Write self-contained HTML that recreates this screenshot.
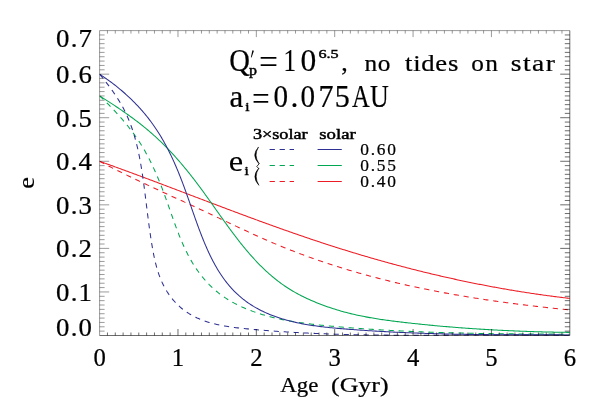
<!DOCTYPE html>
<html><head><meta charset="utf-8"><title>e vs Age</title>
<style>html,body{margin:0;padding:0;background:#fff;}svg{display:block;}text{font-family:"Liberation Serif",serif;fill:#000;}.r text{stroke:#000;stroke-width:0.22px;}</style></head><body>
<svg width="599" height="399" viewBox="0 0 599 399" style="will-change:transform">
<rect x="0" y="0" width="599" height="399" fill="#fff"/>
<defs><clipPath id="c"><rect x="99.6" y="30.6" width="470.20" height="305.80"/></clipPath></defs>
<g clip-path="url(#c)" fill="none" stroke-width="1.05" stroke-linejoin="round">
<path d="M99.60,161.30 L100.76,161.71 L101.92,162.13 L103.08,162.54 L104.24,162.95 L105.39,163.37 L106.55,163.78 L107.71,164.20 L108.87,164.61 L110.03,165.03 L111.18,165.45 L112.34,165.86 L113.50,166.28 L114.65,166.70 L115.81,167.12 L116.97,167.54 L118.12,167.96 L119.28,168.38 L120.44,168.80 L121.59,169.23 L122.75,169.65 L123.90,170.07 L125.06,170.50 L126.22,170.92 L127.37,171.35 L128.53,171.77 L129.68,172.20 L130.84,172.62 L131.99,173.05 L133.14,173.48 L134.30,173.90 L135.45,174.33 L136.61,174.76 L137.76,175.19 L138.92,175.62 L140.07,176.05 L141.22,176.48 L142.38,176.91 L143.53,177.34 L144.68,177.77 L145.84,178.20 L146.99,178.63 L148.14,179.06 L149.30,179.49 L150.45,179.92 L151.60,180.36 L152.75,180.79 L153.91,181.22 L155.06,181.66 L156.21,182.09 L157.36,182.52 L158.52,182.96 L159.67,183.39 L160.82,183.83 L161.97,184.26 L163.12,184.70 L164.28,185.13 L165.43,185.57 L166.58,186.00 L167.73,186.44 L168.88,186.88 L170.04,187.31 L171.19,187.75 L172.34,188.19 L173.49,188.62 L174.64,189.06 L175.79,189.50 L176.95,189.93 L178.10,190.37 L179.25,190.81 L180.40,191.24 L181.55,191.68 L182.70,192.12 L183.85,192.56 L185.01,192.99 L186.16,193.43 L187.31,193.87 L188.46,194.31 L189.61,194.74 L190.76,195.18 L191.91,195.62 L193.06,196.06 L194.22,196.50 L195.37,196.93 L196.52,197.37 L197.67,197.81 L198.82,198.25 L199.97,198.68 L201.13,199.12 L202.28,199.56 L203.43,200.00 L204.58,200.43 L205.73,200.87 L206.88,201.31 L208.04,201.74 L209.19,202.18 L210.34,202.62 L211.49,203.05 L212.64,203.49 L213.79,203.93 L214.95,204.36 L216.10,204.80 L217.25,205.23 L218.40,205.67 L219.56,206.10 L220.71,206.54 L221.86,206.97 L223.01,207.41 L224.17,207.84 L225.32,208.28 L226.47,208.71 L227.62,209.14 L228.78,209.58 L229.93,210.01 L231.08,210.44 L232.24,210.87 L233.39,211.31 L234.54,211.74 L235.70,212.17 L236.85,212.60 L238.00,213.03 L239.16,213.46 L240.31,213.89 L241.47,214.32 L242.62,214.75 L243.78,215.18 L244.93,215.61 L246.09,216.04 L247.24,216.47 L248.39,216.89 L249.55,217.32 L250.71,217.75 L251.86,218.17 L253.02,218.60 L254.17,219.02 L255.33,219.45 L256.48,219.87 L257.64,220.30 L258.80,220.72 L259.95,221.14 L261.11,221.57 L262.27,221.99 L263.42,222.41 L264.58,222.83 L265.74,223.25 L266.90,223.67 L268.05,224.09 L269.21,224.51 L270.37,224.93 L271.53,225.34 L272.69,225.76 L273.85,226.18 L275.00,226.59 L276.16,227.01 L277.32,227.42 L278.48,227.84 L279.64,228.25 L280.80,228.66 L281.96,229.07 L283.12,229.49 L284.28,229.90 L285.44,230.31 L286.61,230.72 L287.77,231.12 L288.93,231.53 L290.09,231.94 L291.25,232.35 L292.41,232.75 L293.58,233.16 L294.74,233.56 L295.90,233.96 L297.07,234.37 L298.23,234.77 L299.39,235.17 L300.56,235.57 L301.72,235.97 L302.89,236.37 L304.05,236.77 L305.22,237.16 L306.38,237.56 L307.55,237.96 L308.71,238.35 L309.88,238.74 L311.05,239.14 L312.21,239.53 L313.38,239.92 L314.55,240.31 L315.71,240.70 L316.88,241.09 L318.05,241.48 L319.22,241.86 L320.39,242.25 L321.56,242.63 L322.73,243.02 L323.90,243.40 L325.07,243.78 L326.24,244.16 L327.41,244.54 L328.58,244.92 L329.75,245.30 L330.92,245.68 L332.09,246.05 L333.27,246.43 L334.44,246.80 L335.61,247.17 L336.78,247.55 L337.96,247.92 L339.13,248.29 L340.31,248.66 L341.48,249.02 L342.66,249.39 L343.83,249.76 L345.01,250.12 L346.18,250.49 L347.36,250.85 L348.54,251.21 L349.71,251.57 L350.89,251.93 L352.07,252.29 L353.24,252.65 L354.42,253.01 L355.60,253.36 L356.78,253.72 L357.96,254.07 L359.14,254.42 L360.32,254.78 L361.50,255.13 L362.68,255.48 L363.86,255.82 L365.04,256.17 L366.22,256.52 L367.40,256.86 L368.58,257.21 L369.76,257.55 L370.95,257.89 L372.13,258.24 L373.31,258.58 L374.49,258.92 L375.68,259.25 L376.86,259.59 L378.05,259.93 L379.23,260.26 L380.42,260.60 L381.60,260.93 L382.79,261.26 L383.97,261.59 L385.16,261.92 L386.34,262.25 L387.53,262.58 L388.72,262.90 L389.90,263.23 L391.09,263.55 L392.28,263.87 L393.47,264.20 L394.65,264.52 L395.84,264.84 L397.03,265.16 L398.22,265.47 L399.41,265.79 L400.60,266.11 L401.79,266.42 L402.98,266.73 L404.17,267.05 L405.36,267.36 L406.55,267.67 L407.74,267.97 L408.94,268.28 L410.13,268.59 L411.32,268.89 L412.51,269.20 L413.71,269.50 L414.90,269.80 L416.09,270.10 L417.29,270.40 L418.48,270.70 L419.67,271.00 L420.87,271.30 L422.06,271.59 L423.26,271.89 L424.45,272.18 L425.65,272.47 L426.85,272.76 L428.04,273.05 L429.24,273.34 L430.44,273.63 L431.63,273.91 L432.83,274.20 L434.03,274.48 L435.23,274.76 L436.42,275.04 L437.62,275.32 L438.82,275.60 L440.02,275.88 L441.22,276.16 L442.42,276.43 L443.62,276.71 L444.82,276.98 L446.02,277.25 L447.22,277.52 L448.42,277.79 L449.62,278.06 L450.82,278.33 L452.02,278.59 L453.23,278.86 L454.43,279.12 L455.63,279.38 L456.83,279.64 L458.04,279.90 L459.24,280.16 L460.44,280.42 L461.65,280.68 L462.85,280.93 L464.06,281.19 L465.26,281.44 L466.47,281.69 L467.67,281.94 L468.88,282.19 L470.08,282.44 L471.29,282.68 L472.50,282.93 L473.70,283.17 L474.91,283.42 L476.12,283.66 L477.32,283.90 L478.53,284.14 L479.74,284.37 L480.95,284.61 L482.16,284.85 L483.36,285.08 L484.57,285.31 L485.78,285.55 L486.99,285.78 L488.20,286.01 L489.41,286.23 L490.62,286.46 L491.83,286.69 L493.04,286.91 L494.25,287.13 L495.46,287.35 L496.68,287.57 L497.89,287.79 L499.10,288.01 L500.31,288.23 L501.52,288.44 L502.74,288.66 L503.95,288.87 L505.16,289.08 L506.38,289.29 L507.59,289.50 L508.80,289.71 L510.02,289.91 L511.23,290.12 L512.45,290.32 L513.66,290.52 L514.88,290.73 L516.09,290.92 L517.31,291.12 L518.52,291.32 L519.74,291.52 L520.96,291.71 L522.17,291.90 L523.39,292.10 L524.61,292.29 L525.82,292.48 L527.04,292.66 L528.26,292.85 L529.48,293.04 L530.70,293.22 L531.91,293.40 L533.13,293.58 L534.35,293.76 L535.57,293.94 L536.79,294.12 L538.01,294.29 L539.23,294.47 L540.45,294.64 L541.67,294.81 L542.89,294.99 L544.11,295.15 L545.33,295.32 L546.56,295.49 L547.78,295.65 L549.00,295.82 L550.22,295.98 L551.44,296.14 L552.67,296.30 L553.89,296.46 L555.11,296.62 L556.34,296.77 L557.56,296.93 L558.78,297.08 L560.01,297.23 L561.23,297.38 L562.46,297.53 L563.68,297.68 L564.90,297.82 L566.13,297.97 L567.35,298.11 L568.58,298.25 L569.81,298.39" stroke="#ed1c24"/>
<path d="M99.60,161.30 L100.70,161.88 L101.79,162.46 L102.89,163.04 L103.99,163.62 L105.10,164.19 L106.20,164.77 L107.30,165.34 L108.41,165.91 L109.51,166.48 L110.62,167.05 L111.73,167.61 L112.84,168.18 L113.95,168.74 L115.06,169.30 L116.18,169.86 L117.29,170.42 L118.40,170.98 L119.52,171.54 L120.64,172.09 L121.75,172.64 L122.87,173.20 L123.99,173.75 L125.11,174.30 L126.23,174.85 L127.36,175.40 L128.48,175.94 L129.60,176.49 L130.73,177.03 L131.85,177.58 L132.98,178.12 L134.10,178.66 L135.23,179.20 L136.36,179.74 L137.49,180.28 L138.62,180.82 L139.75,181.36 L140.88,181.89 L142.01,182.43 L143.14,182.97 L144.27,183.50 L145.40,184.03 L146.53,184.56 L147.67,185.10 L148.80,185.63 L149.94,186.16 L151.07,186.69 L152.21,187.22 L153.34,187.75 L154.48,188.27 L155.61,188.80 L156.75,189.33 L157.88,189.85 L159.02,190.38 L160.16,190.91 L161.29,191.43 L162.43,191.95 L163.57,192.48 L164.71,193.00 L165.84,193.53 L166.98,194.05 L168.12,194.57 L169.26,195.09 L170.40,195.62 L171.53,196.14 L172.67,196.66 L173.81,197.18 L174.95,197.70 L176.09,198.23 L177.22,198.75 L178.36,199.27 L179.50,199.79 L180.64,200.31 L181.77,200.83 L182.91,201.35 L184.05,201.87 L185.18,202.39 L186.32,202.91 L187.46,203.44 L188.59,203.96 L189.73,204.48 L190.86,205.00 L192.00,205.52 L193.13,206.04 L194.27,206.57 L195.40,207.09 L196.53,207.61 L197.67,208.13 L198.80,208.66 L199.93,209.18 L201.06,209.71 L202.19,210.23 L203.32,210.75 L204.45,211.28 L205.58,211.81 L206.71,212.33 L207.84,212.86 L208.97,213.39 L210.09,213.91 L211.22,214.44 L212.34,214.97 L213.47,215.50 L214.59,216.03 L215.71,216.56 L216.84,217.09 L217.96,217.62 L219.08,218.15 L220.20,218.68 L221.32,219.22 L222.45,219.75 L223.57,220.28 L224.69,220.81 L225.81,221.34 L226.92,221.87 L228.04,222.40 L229.16,222.93 L230.28,223.46 L231.40,223.99 L232.52,224.52 L233.64,225.05 L234.76,225.58 L235.88,226.11 L237.00,226.64 L238.11,227.17 L239.23,227.69 L240.35,228.22 L241.47,228.74 L242.59,229.27 L243.71,229.79 L244.83,230.31 L245.95,230.83 L247.07,231.35 L248.20,231.87 L249.32,232.39 L250.44,232.91 L251.56,233.42 L252.69,233.94 L253.81,234.45 L254.93,234.96 L256.06,235.47 L257.18,235.98 L258.31,236.48 L259.44,236.99 L260.57,237.49 L261.70,237.99 L262.82,238.49 L263.96,238.99 L265.09,239.49 L266.22,239.98 L267.35,240.48 L268.49,240.97 L269.62,241.46 L270.76,241.94 L271.89,242.43 L273.03,242.91 L274.17,243.39 L275.31,243.87 L276.45,244.35 L277.59,244.82 L278.74,245.30 L279.88,245.77 L281.03,246.24 L282.17,246.71 L283.32,247.18 L284.47,247.64 L285.62,248.10 L286.77,248.57 L287.92,249.02 L289.08,249.48 L290.23,249.94 L291.39,250.39 L292.54,250.84 L293.70,251.29 L294.86,251.74 L296.02,252.19 L297.18,252.63 L298.34,253.07 L299.50,253.51 L300.66,253.95 L301.82,254.38 L302.99,254.82 L304.15,255.25 L305.32,255.68 L306.49,256.10 L307.65,256.53 L308.82,256.95 L309.99,257.37 L311.16,257.79 L312.33,258.21 L313.50,258.62 L314.67,259.03 L315.85,259.44 L317.02,259.85 L318.19,260.26 L319.37,260.66 L320.55,261.07 L321.72,261.47 L322.90,261.86 L324.08,262.26 L325.26,262.66 L326.44,263.05 L327.62,263.44 L328.80,263.83 L329.98,264.21 L331.16,264.60 L332.34,264.98 L333.53,265.36 L334.71,265.74 L335.90,266.12 L337.08,266.49 L338.27,266.86 L339.46,267.23 L340.64,267.60 L341.83,267.97 L343.02,268.34 L344.21,268.70 L345.40,269.06 L346.59,269.42 L347.79,269.78 L348.98,270.13 L350.17,270.49 L351.36,270.84 L352.56,271.19 L353.75,271.54 L354.95,271.89 L356.15,272.23 L357.34,272.57 L358.54,272.92 L359.74,273.25 L360.94,273.59 L362.14,273.93 L363.34,274.26 L364.54,274.59 L365.74,274.92 L366.94,275.25 L368.14,275.58 L369.34,275.91 L370.55,276.23 L371.75,276.55 L372.95,276.87 L374.16,277.19 L375.37,277.50 L376.57,277.82 L377.78,278.13 L378.98,278.44 L380.19,278.75 L381.40,279.06 L382.61,279.37 L383.82,279.67 L385.03,279.97 L386.24,280.28 L387.45,280.58 L388.66,280.87 L389.87,281.17 L391.08,281.46 L392.30,281.76 L393.51,282.05 L394.72,282.34 L395.94,282.63 L397.15,282.91 L398.37,283.20 L399.58,283.48 L400.80,283.76 L402.02,284.04 L403.23,284.32 L404.45,284.60 L405.67,284.87 L406.89,285.14 L408.10,285.42 L409.32,285.69 L410.54,285.96 L411.76,286.22 L412.98,286.49 L414.20,286.75 L415.42,287.02 L416.65,287.28 L417.87,287.54 L419.09,287.80 L420.31,288.05 L421.54,288.31 L422.76,288.56 L423.98,288.81 L425.21,289.06 L426.43,289.31 L427.66,289.56 L428.88,289.81 L430.11,290.05 L431.33,290.30 L432.56,290.54 L433.79,290.78 L435.01,291.02 L436.24,291.26 L437.47,291.49 L438.70,291.73 L439.92,291.96 L441.15,292.19 L442.38,292.42 L443.61,292.65 L444.84,292.88 L446.07,293.11 L447.30,293.33 L448.53,293.56 L449.76,293.78 L450.99,294.00 L452.22,294.22 L453.46,294.44 L454.69,294.66 L455.92,294.87 L457.15,295.09 L458.38,295.30 L459.62,295.51 L460.85,295.72 L462.08,295.93 L463.32,296.14 L464.55,296.35 L465.78,296.55 L467.02,296.76 L468.25,296.96 L469.49,297.16 L470.72,297.36 L471.96,297.56 L473.19,297.76 L474.43,297.96 L475.66,298.15 L476.90,298.35 L478.13,298.54 L479.37,298.73 L480.61,298.92 L481.84,299.11 L483.08,299.30 L484.32,299.49 L485.55,299.67 L486.79,299.86 L488.03,300.04 L489.27,300.22 L490.50,300.40 L491.74,300.59 L492.98,300.76 L494.22,300.94 L495.45,301.12 L496.69,301.29 L497.93,301.47 L499.17,301.64 L500.41,301.81 L501.65,301.99 L502.88,302.16 L504.12,302.33 L505.36,302.49 L506.60,302.66 L507.84,302.83 L509.08,302.99 L510.32,303.15 L511.56,303.32 L512.80,303.48 L514.04,303.64 L515.28,303.80 L516.52,303.96 L517.75,304.12 L518.99,304.27 L520.23,304.43 L521.47,304.58 L522.71,304.74 L523.95,304.89 L525.19,305.04 L526.43,305.19 L527.67,305.34 L528.91,305.49 L530.15,305.64 L531.39,305.78 L532.63,305.93 L533.87,306.07 L535.11,306.22 L536.35,306.36 L537.59,306.50 L538.83,306.64 L540.07,306.79 L541.31,306.92 L542.55,307.06 L543.79,307.20 L545.03,307.34 L546.27,307.47 L547.50,307.61 L548.74,307.74 L549.98,307.88 L551.22,308.01 L552.46,308.14 L553.70,308.27 L554.94,308.40 L556.18,308.53 L557.42,308.66 L558.65,308.79 L559.89,308.91 L561.13,309.04 L562.37,309.16 L563.61,309.29 L564.85,309.41 L566.08,309.53 L567.32,309.66 L568.56,309.78 L569.80,309.90" stroke="#ed1c24" stroke-dasharray="5.2 4.8"/>
<path d="M99.60,95.90 L100.76,96.63 L101.93,97.36 L103.09,98.10 L104.26,98.84 L105.43,99.59 L106.60,100.34 L107.77,101.09 L108.94,101.84 L110.11,102.60 L111.28,103.37 L112.45,104.13 L113.62,104.91 L114.79,105.68 L115.96,106.46 L117.13,107.24 L118.30,108.03 L119.47,108.82 L120.63,109.61 L121.80,110.41 L122.96,111.21 L124.12,112.02 L125.28,112.83 L126.44,113.65 L127.59,114.47 L128.74,115.29 L129.89,116.12 L131.04,116.95 L132.18,117.79 L133.32,118.63 L134.46,119.48 L135.59,120.33 L136.72,121.19 L137.85,122.04 L138.97,122.91 L140.08,123.78 L141.20,124.65 L142.30,125.53 L143.41,126.42 L144.50,127.30 L145.60,128.20 L146.68,129.10 L147.77,130.00 L148.84,130.91 L149.91,131.82 L150.98,132.74 L152.03,133.66 L153.08,134.59 L154.13,135.52 L155.17,136.46 L156.20,137.41 L157.23,138.36 L158.25,139.31 L159.26,140.27 L160.27,141.23 L161.27,142.20 L162.27,143.17 L163.26,144.15 L164.25,145.13 L165.23,146.11 L166.21,147.11 L167.18,148.10 L168.15,149.10 L169.11,150.10 L170.06,151.11 L171.01,152.12 L171.96,153.14 L172.90,154.16 L173.84,155.19 L174.77,156.22 L175.70,157.25 L176.62,158.29 L177.54,159.33 L178.46,160.37 L179.37,161.42 L180.28,162.47 L181.18,163.53 L182.08,164.59 L182.98,165.65 L183.87,166.72 L184.76,167.79 L185.64,168.87 L186.52,169.95 L187.40,171.03 L188.27,172.11 L189.15,173.20 L190.01,174.29 L190.88,175.39 L191.74,176.48 L192.60,177.59 L193.46,178.69 L194.31,179.80 L195.16,180.91 L196.01,182.02 L196.86,183.14 L197.70,184.26 L198.54,185.38 L199.38,186.50 L200.22,187.63 L201.05,188.76 L201.89,189.90 L202.72,191.03 L203.55,192.17 L204.37,193.31 L205.20,194.45 L206.03,195.60 L206.85,196.74 L207.67,197.89 L208.49,199.04 L209.31,200.19 L210.13,201.34 L210.95,202.49 L211.77,203.65 L212.59,204.80 L213.41,205.96 L214.23,207.11 L215.04,208.27 L215.86,209.43 L216.68,210.58 L217.50,211.74 L218.31,212.90 L219.13,214.05 L219.95,215.21 L220.77,216.36 L221.59,217.52 L222.42,218.67 L223.24,219.83 L224.06,220.98 L224.89,222.13 L225.72,223.28 L226.54,224.42 L227.38,225.57 L228.21,226.71 L229.04,227.86 L229.88,229.00 L230.72,230.13 L231.56,231.27 L232.40,232.40 L233.24,233.53 L234.09,234.66 L234.94,235.78 L235.80,236.90 L236.65,238.02 L237.51,239.14 L238.38,240.25 L239.24,241.36 L240.11,242.46 L240.99,243.56 L241.86,244.66 L242.74,245.75 L243.63,246.84 L244.52,247.92 L245.41,249.00 L246.31,250.07 L247.21,251.14 L248.11,252.20 L249.02,253.26 L249.94,254.31 L250.86,255.36 L251.79,256.40 L252.72,257.44 L253.65,258.47 L254.59,259.49 L255.54,260.51 L256.49,261.53 L257.45,262.53 L258.41,263.53 L259.38,264.52 L260.36,265.51 L261.34,266.49 L262.33,267.46 L263.32,268.42 L264.32,269.38 L265.33,270.33 L266.34,271.27 L267.36,272.20 L268.39,273.13 L269.43,274.05 L270.47,274.96 L271.52,275.86 L272.58,276.75 L273.64,277.63 L274.71,278.51 L275.79,279.37 L276.88,280.23 L277.98,281.08 L279.08,281.92 L280.19,282.75 L281.31,283.57 L282.44,284.38 L283.58,285.18 L284.73,285.97 L285.88,286.75 L287.05,287.51 L288.22,288.27 L289.41,289.02 L290.60,289.76 L291.80,290.48 L293.01,291.20 L294.23,291.91 L295.45,292.60 L296.69,293.29 L297.93,293.96 L299.18,294.63 L300.44,295.28 L301.70,295.92 L302.97,296.56 L304.25,297.18 L305.53,297.80 L306.81,298.41 L308.11,299.00 L309.40,299.59 L310.70,300.17 L312.01,300.74 L313.31,301.30 L314.63,301.85 L315.94,302.39 L317.26,302.93 L318.58,303.45 L319.90,303.97 L321.23,304.48 L322.55,304.98 L323.88,305.47 L325.21,305.96 L326.54,306.43 L327.87,306.90 L329.21,307.36 L330.55,307.81 L331.88,308.26 L333.22,308.69 L334.57,309.12 L335.91,309.54 L337.25,309.95 L338.60,310.35 L339.95,310.75 L341.30,311.14 L342.65,311.51 L344.00,311.89 L345.35,312.25 L346.71,312.61 L348.07,312.96 L349.42,313.30 L350.78,313.63 L352.14,313.96 L353.50,314.28 L354.87,314.59 L356.23,314.89 L357.60,315.19 L358.96,315.49 L360.33,315.77 L361.70,316.05 L363.07,316.33 L364.44,316.59 L365.81,316.86 L367.18,317.11 L368.56,317.36 L369.93,317.61 L371.31,317.85 L372.68,318.09 L374.06,318.32 L375.44,318.54 L376.82,318.76 L378.20,318.98 L379.58,319.19 L380.96,319.40 L382.34,319.61 L383.73,319.81 L385.11,320.01 L386.49,320.20 L387.88,320.39 L389.26,320.58 L390.65,320.76 L392.04,320.94 L393.43,321.12 L394.81,321.30 L396.20,321.47 L397.59,321.64 L398.98,321.81 L400.37,321.97 L401.76,322.14 L403.15,322.30 L404.54,322.46 L405.93,322.62 L407.33,322.78 L408.72,322.94 L410.11,323.09 L411.50,323.25 L412.90,323.40 L414.29,323.55 L415.68,323.70 L417.08,323.85 L418.47,323.99 L419.86,324.14 L421.26,324.28 L422.65,324.42 L424.05,324.57 L425.44,324.71 L426.84,324.84 L428.24,324.98 L429.63,325.12 L431.03,325.25 L432.43,325.38 L433.82,325.52 L435.22,325.65 L436.62,325.78 L438.02,325.90 L439.41,326.03 L440.81,326.15 L442.21,326.28 L443.61,326.40 L445.01,326.52 L446.41,326.64 L447.81,326.76 L449.20,326.87 L450.60,326.99 L452.00,327.10 L453.40,327.22 L454.80,327.33 L456.20,327.44 L457.60,327.55 L459.01,327.66 L460.41,327.76 L461.81,327.87 L463.21,327.97 L464.61,328.08 L466.01,328.18 L467.41,328.28 L468.81,328.38 L470.22,328.47 L471.62,328.57 L473.02,328.66 L474.42,328.76 L475.82,328.85 L477.23,328.94 L478.63,329.03 L480.03,329.12 L481.43,329.21 L482.84,329.29 L484.24,329.38 L485.64,329.46 L487.04,329.55 L488.45,329.63 L489.85,329.71 L491.25,329.79 L492.66,329.87 L494.06,329.94 L495.46,330.02 L496.87,330.09 L498.27,330.16 L499.67,330.24 L501.08,330.31 L502.48,330.38 L503.88,330.45 L505.29,330.51 L506.69,330.58 L508.10,330.64 L509.50,330.71 L510.90,330.77 L512.31,330.83 L513.71,330.89 L515.11,330.95 L516.52,331.01 L517.92,331.07 L519.32,331.12 L520.73,331.18 L522.13,331.23 L523.53,331.28 L524.94,331.33 L526.34,331.38 L527.74,331.43 L529.15,331.48 L530.55,331.53 L531.95,331.57 L533.36,331.62 L534.76,331.66 L536.16,331.70 L537.57,331.74 L538.97,331.78 L540.37,331.82 L541.77,331.86 L543.18,331.90 L544.58,331.93 L545.98,331.97 L547.38,332.00 L548.78,332.03 L550.19,332.07 L551.59,332.10 L552.99,332.13 L554.39,332.15 L555.79,332.18 L557.19,332.21 L558.60,332.23 L560.00,332.26 L561.40,332.28 L562.80,332.30 L564.20,332.32 L565.60,332.34 L567.00,332.36 L568.40,332.38 L569.80,332.40" stroke="#00a651"/>
<path d="M99.60,95.90 L100.68,96.92 L101.76,97.94 L102.83,98.97 L103.91,100.00 L104.97,101.04 L106.04,102.08 L107.09,103.12 L108.15,104.18 L109.20,105.23 L110.24,106.29 L111.28,107.36 L112.32,108.43 L113.35,109.51 L114.37,110.59 L115.39,111.68 L116.40,112.77 L117.41,113.87 L118.41,114.97 L119.40,116.08 L120.39,117.20 L121.37,118.31 L122.34,119.44 L123.31,120.57 L124.27,121.70 L125.22,122.84 L126.16,123.99 L127.10,125.14 L128.02,126.29 L128.94,127.46 L129.86,128.62 L130.76,129.80 L131.65,130.97 L132.54,132.16 L133.41,133.35 L134.28,134.54 L135.14,135.74 L135.99,136.95 L136.83,138.16 L137.65,139.38 L138.47,140.60 L139.28,141.83 L140.08,143.06 L140.87,144.30 L141.64,145.55 L142.41,146.80 L143.16,148.05 L143.91,149.32 L144.64,150.58 L145.37,151.86 L146.08,153.14 L146.79,154.42 L147.48,155.71 L148.17,157.00 L148.85,158.30 L149.52,159.60 L150.18,160.91 L150.83,162.22 L151.47,163.54 L152.11,164.86 L152.74,166.19 L153.36,167.52 L153.97,168.85 L154.58,170.19 L155.18,171.54 L155.78,172.88 L156.36,174.23 L156.94,175.59 L157.52,176.94 L158.09,178.30 L158.65,179.67 L159.21,181.04 L159.76,182.41 L160.31,183.78 L160.85,185.16 L161.39,186.54 L161.93,187.92 L162.46,189.31 L162.98,190.70 L163.51,192.09 L164.03,193.48 L164.54,194.88 L165.06,196.28 L165.57,197.68 L166.07,199.08 L166.58,200.48 L167.08,201.89 L167.58,203.30 L168.08,204.71 L168.58,206.12 L169.08,207.54 L169.57,208.95 L170.07,210.37 L170.56,211.78 L171.06,213.20 L171.56,214.62 L172.05,216.03 L172.55,217.45 L173.05,218.86 L173.56,220.28 L174.06,221.69 L174.57,223.10 L175.08,224.51 L175.60,225.92 L176.12,227.33 L176.64,228.73 L177.17,230.14 L177.71,231.53 L178.25,232.93 L178.79,234.32 L179.34,235.71 L179.90,237.10 L180.47,238.48 L181.04,239.86 L181.62,241.23 L182.20,242.60 L182.80,243.96 L183.41,245.32 L184.02,246.67 L184.64,248.02 L185.28,249.36 L185.92,250.70 L186.57,252.03 L187.24,253.35 L187.91,254.67 L188.60,255.98 L189.30,257.28 L190.01,258.57 L190.74,259.86 L191.48,261.13 L192.23,262.40 L192.99,263.67 L193.77,264.92 L194.57,266.16 L195.37,267.40 L196.20,268.62 L197.03,269.83 L197.88,271.04 L198.75,272.23 L199.62,273.41 L200.52,274.58 L201.42,275.74 L202.34,276.89 L203.28,278.02 L204.23,279.14 L205.19,280.25 L206.17,281.35 L207.16,282.43 L208.16,283.49 L209.18,284.55 L210.22,285.58 L211.27,286.61 L212.33,287.61 L213.40,288.60 L214.50,289.58 L215.60,290.54 L216.72,291.48 L217.85,292.40 L219.00,293.31 L220.16,294.20 L221.34,295.07 L222.53,295.93 L223.73,296.77 L224.94,297.59 L226.17,298.40 L227.41,299.19 L228.66,299.96 L229.92,300.72 L231.19,301.46 L232.47,302.19 L233.77,302.90 L235.07,303.60 L236.38,304.28 L237.70,304.95 L239.03,305.60 L240.37,306.24 L241.72,306.86 L243.07,307.47 L244.43,308.07 L245.80,308.65 L247.18,309.22 L248.56,309.78 L249.95,310.32 L251.34,310.85 L252.74,311.37 L254.14,311.88 L255.55,312.37 L256.96,312.85 L258.38,313.32 L259.80,313.78 L261.22,314.23 L262.65,314.66 L264.08,315.08 L265.51,315.50 L266.95,315.90 L268.38,316.29 L269.82,316.67 L271.26,317.04 L272.70,317.41 L274.14,317.76 L275.59,318.10 L277.04,318.43 L278.49,318.76 L279.94,319.07 L281.39,319.38 L282.84,319.68 L284.30,319.97 L285.75,320.25 L287.21,320.52 L288.67,320.79 L290.13,321.05 L291.60,321.30 L293.06,321.55 L294.53,321.79 L295.99,322.02 L297.46,322.24 L298.93,322.46 L300.40,322.68 L301.87,322.88 L303.34,323.09 L304.81,323.28 L306.28,323.47 L307.75,323.66 L309.23,323.84 L310.70,324.02 L312.18,324.19 L313.66,324.36 L315.13,324.53 L316.61,324.69 L318.09,324.85 L319.56,325.00 L321.04,325.15 L322.52,325.30 L324.00,325.45 L325.48,325.59 L326.96,325.73 L328.44,325.87 L329.91,326.01 L331.39,326.15 L332.87,326.28 L334.35,326.42 L335.83,326.55 L337.31,326.68 L338.79,326.81 L340.27,326.93 L341.75,327.06 L343.23,327.18 L344.70,327.30 L346.18,327.43 L347.66,327.55 L349.14,327.66 L350.62,327.78 L352.10,327.90 L353.58,328.01 L355.06,328.12 L356.53,328.23 L358.01,328.34 L359.49,328.45 L360.97,328.56 L362.45,328.66 L363.93,328.77 L365.41,328.87 L366.89,328.97 L368.36,329.07 L369.84,329.17 L371.32,329.27 L372.80,329.36 L374.28,329.46 L375.76,329.55 L377.24,329.65 L378.72,329.74 L380.19,329.83 L381.67,329.91 L383.15,330.00 L384.63,330.09 L386.11,330.17 L387.59,330.26 L389.07,330.34 L390.55,330.42 L392.02,330.50 L393.50,330.58 L394.98,330.66 L396.46,330.73 L397.94,330.81 L399.42,330.88 L400.90,330.95 L402.38,331.03 L403.85,331.10 L405.33,331.17 L406.81,331.24 L408.29,331.30 L409.77,331.37 L411.25,331.44 L412.73,331.50 L414.21,331.56 L415.69,331.63 L417.17,331.69 L418.64,331.75 L420.12,331.81 L421.60,331.86 L423.08,331.92 L424.56,331.98 L426.04,332.03 L427.52,332.09 L429.00,332.14 L430.48,332.19 L431.96,332.24 L433.44,332.29 L434.92,332.34 L436.40,332.39 L437.88,332.44 L439.36,332.49 L440.84,332.53 L442.31,332.58 L443.79,332.62 L445.27,332.67 L446.75,332.71 L448.23,332.75 L449.71,332.79 L451.19,332.83 L452.67,332.87 L454.15,332.91 L455.63,332.95 L457.11,332.98 L458.59,333.02 L460.07,333.05 L461.55,333.09 L463.03,333.12 L464.51,333.16 L465.99,333.19 L467.48,333.22 L468.96,333.25 L470.44,333.28 L471.92,333.31 L473.40,333.34 L474.88,333.37 L476.36,333.39 L477.84,333.42 L479.32,333.45 L480.80,333.47 L482.28,333.50 L483.76,333.52 L485.24,333.55 L486.73,333.57 L488.21,333.59 L489.69,333.61 L491.17,333.64 L492.65,333.66 L494.13,333.68 L495.61,333.70 L497.10,333.72 L498.58,333.73 L500.06,333.75 L501.54,333.77 L503.02,333.79 L504.51,333.80 L505.99,333.82 L507.47,333.84 L508.95,333.85 L510.43,333.87 L511.92,333.88 L513.40,333.89 L514.88,333.91 L516.36,333.92 L517.85,333.93 L519.33,333.95 L520.81,333.96 L522.30,333.97 L523.78,333.98 L525.26,333.99 L526.75,334.00 L528.23,334.01 L529.71,334.02 L531.20,334.03 L532.68,334.04 L534.16,334.05 L535.65,334.06 L537.13,334.07 L538.62,334.07 L540.10,334.08 L541.58,334.09 L543.07,334.10 L544.55,334.10 L546.04,334.11 L547.52,334.12 L549.01,334.12 L550.49,334.13 L551.98,334.14 L553.46,334.14 L554.95,334.15 L556.43,334.15 L557.92,334.16 L559.40,334.16 L560.89,334.17 L562.37,334.17 L563.86,334.18 L565.34,334.18 L566.83,334.19 L568.32,334.19 L569.80,334.20" stroke="#00a651" stroke-dasharray="5.2 4.8"/>
<path d="M99.60,74.20 L100.87,75.03 L102.13,75.87 L103.39,76.72 L104.65,77.58 L105.90,78.45 L107.14,79.32 L108.37,80.21 L109.60,81.10 L110.83,82.00 L112.04,82.91 L113.26,83.83 L114.46,84.76 L115.66,85.70 L116.85,86.65 L118.03,87.60 L119.21,88.56 L120.38,89.53 L121.54,90.51 L122.69,91.50 L123.84,92.50 L124.98,93.50 L126.11,94.52 L127.24,95.54 L128.35,96.57 L129.46,97.61 L130.56,98.65 L131.65,99.71 L132.73,100.77 L133.81,101.84 L134.87,102.92 L135.93,104.01 L136.98,105.11 L138.02,106.21 L139.05,107.32 L140.07,108.44 L141.08,109.57 L142.08,110.71 L143.07,111.85 L144.05,113.00 L145.02,114.16 L145.99,115.33 L146.94,116.51 L147.88,117.69 L148.81,118.88 L149.73,120.08 L150.64,121.29 L151.54,122.50 L152.43,123.72 L153.31,124.95 L154.18,126.19 L155.04,127.43 L155.88,128.69 L156.72,129.94 L157.54,131.21 L158.36,132.48 L159.16,133.76 L159.96,135.05 L160.74,136.34 L161.52,137.64 L162.28,138.94 L163.04,140.25 L163.78,141.57 L164.52,142.89 L165.25,144.22 L165.97,145.55 L166.68,146.89 L167.39,148.23 L168.08,149.58 L168.77,150.93 L169.44,152.29 L170.12,153.65 L170.78,155.01 L171.43,156.38 L172.08,157.75 L172.72,159.13 L173.35,160.51 L173.98,161.89 L174.60,163.28 L175.21,164.67 L175.81,166.06 L176.41,167.45 L177.00,168.85 L177.59,170.25 L178.17,171.65 L178.74,173.06 L179.31,174.46 L179.87,175.87 L180.43,177.28 L180.98,178.69 L181.52,180.10 L182.06,181.52 L182.60,182.93 L183.13,184.35 L183.66,185.77 L184.18,187.18 L184.70,188.60 L185.22,190.02 L185.73,191.44 L186.24,192.87 L186.75,194.29 L187.25,195.71 L187.76,197.14 L188.26,198.56 L188.76,199.99 L189.26,201.41 L189.75,202.84 L190.25,204.27 L190.75,205.70 L191.25,207.12 L191.74,208.55 L192.24,209.98 L192.74,211.41 L193.24,212.84 L193.74,214.27 L194.24,215.70 L194.75,217.13 L195.25,218.56 L195.76,219.99 L196.28,221.42 L196.79,222.85 L197.31,224.28 L197.83,225.71 L198.36,227.14 L198.89,228.57 L199.42,230.00 L199.96,231.43 L200.51,232.86 L201.06,234.28 L201.61,235.71 L202.17,237.14 L202.74,238.56 L203.31,239.99 L203.89,241.41 L204.48,242.83 L205.07,244.25 L205.68,245.66 L206.29,247.08 L206.90,248.48 L207.53,249.89 L208.16,251.29 L208.81,252.68 L209.46,254.07 L210.12,255.45 L210.79,256.83 L211.48,258.20 L212.17,259.57 L212.87,260.93 L213.58,262.28 L214.31,263.62 L215.04,264.96 L215.79,266.29 L216.55,267.61 L217.32,268.91 L218.11,270.21 L218.90,271.50 L219.71,272.78 L220.54,274.05 L221.37,275.31 L222.22,276.56 L223.09,277.80 L223.97,279.02 L224.86,280.23 L225.77,281.43 L226.69,282.61 L227.63,283.79 L228.58,284.94 L229.55,286.09 L230.54,287.22 L231.54,288.33 L232.56,289.43 L233.60,290.52 L234.65,291.58 L235.72,292.64 L236.80,293.67 L237.90,294.69 L239.01,295.70 L240.14,296.68 L241.28,297.65 L242.44,298.60 L243.61,299.54 L244.80,300.45 L246.00,301.35 L247.21,302.23 L248.44,303.09 L249.69,303.93 L250.94,304.75 L252.21,305.55 L253.49,306.34 L254.79,307.10 L256.09,307.85 L257.41,308.58 L258.73,309.30 L260.07,309.99 L261.42,310.67 L262.77,311.33 L264.14,311.98 L265.51,312.61 L266.89,313.22 L268.28,313.81 L269.68,314.39 L271.08,314.96 L272.49,315.51 L273.90,316.04 L275.32,316.56 L276.74,317.06 L278.17,317.55 L279.60,318.03 L281.04,318.49 L282.48,318.93 L283.93,319.37 L285.38,319.79 L286.83,320.19 L288.29,320.59 L289.75,320.97 L291.21,321.34 L292.68,321.70 L294.15,322.05 L295.63,322.38 L297.11,322.71 L298.59,323.02 L300.07,323.32 L301.56,323.62 L303.05,323.90 L304.54,324.17 L306.04,324.44 L307.54,324.69 L309.04,324.94 L310.54,325.18 L312.04,325.41 L313.55,325.63 L315.06,325.85 L316.57,326.06 L318.08,326.26 L319.59,326.45 L321.11,326.64 L322.62,326.82 L324.14,327.00 L325.66,327.17 L327.18,327.33 L328.70,327.49 L330.22,327.65 L331.74,327.80 L333.26,327.94 L334.79,328.09 L336.31,328.23 L337.83,328.36 L339.36,328.50 L340.88,328.62 L342.41,328.75 L343.93,328.88 L345.45,329.00 L346.98,329.12 L348.50,329.24 L350.02,329.36 L351.54,329.48 L353.06,329.59 L354.59,329.71 L356.11,329.82 L357.63,329.93 L359.15,330.04 L360.67,330.14 L362.19,330.25 L363.71,330.35 L365.22,330.45 L366.74,330.55 L368.26,330.65 L369.78,330.75 L371.30,330.85 L372.81,330.94 L374.33,331.03 L375.85,331.13 L377.37,331.22 L378.88,331.30 L380.40,331.39 L381.91,331.48 L383.43,331.56 L384.94,331.64 L386.46,331.73 L387.97,331.81 L389.49,331.89 L391.00,331.96 L392.52,332.04 L394.03,332.11 L395.55,332.19 L397.06,332.26 L398.57,332.33 L400.09,332.40 L401.60,332.47 L403.11,332.53 L404.63,332.60 L406.14,332.67 L407.65,332.73 L409.16,332.79 L410.68,332.85 L412.19,332.91 L413.70,332.97 L415.21,333.03 L416.72,333.08 L418.24,333.14 L419.75,333.19 L421.26,333.25 L422.77,333.30 L424.28,333.35 L425.79,333.40 L427.30,333.45 L428.82,333.49 L430.33,333.54 L431.84,333.58 L433.35,333.63 L434.86,333.67 L436.37,333.71 L437.88,333.76 L439.39,333.80 L440.90,333.84 L442.41,333.87 L443.92,333.91 L445.43,333.95 L446.95,333.98 L448.46,334.02 L449.97,334.05 L451.48,334.08 L452.99,334.12 L454.50,334.15 L456.01,334.18 L457.52,334.21 L459.03,334.24 L460.54,334.26 L462.05,334.29 L463.56,334.32 L465.08,334.34 L466.59,334.37 L468.10,334.39 L469.61,334.41 L471.12,334.44 L472.63,334.46 L474.14,334.48 L475.65,334.50 L477.17,334.52 L478.68,334.54 L480.19,334.56 L481.70,334.57 L483.21,334.59 L484.73,334.61 L486.24,334.62 L487.75,334.64 L489.26,334.65 L490.78,334.67 L492.29,334.68 L493.80,334.69 L495.32,334.71 L496.83,334.72 L498.35,334.73 L499.86,334.74 L501.37,334.75 L502.89,334.76 L504.40,334.77 L505.92,334.78 L507.43,334.79 L508.95,334.80 L510.46,334.80 L511.98,334.81 L513.49,334.82 L515.01,334.82 L516.53,334.83 L518.04,334.84 L519.56,334.84 L521.08,334.85 L522.60,334.85 L524.11,334.85 L525.63,334.86 L527.15,334.86 L528.67,334.87 L530.19,334.87 L531.71,334.87 L533.23,334.87 L534.75,334.88 L536.27,334.88 L537.79,334.88 L539.31,334.88 L540.83,334.89 L542.35,334.89 L543.87,334.89 L545.40,334.89 L546.92,334.89 L548.44,334.89 L549.96,334.89 L551.49,334.89 L553.01,334.89 L554.54,334.89 L556.06,334.89 L557.59,334.89 L559.11,334.89 L560.64,334.89 L562.17,334.90 L563.69,334.90 L565.22,334.90 L566.75,334.90 L568.28,334.90 L569.81,334.90" stroke="#2e3192"/>
<path d="M99.60,74.20 L100.63,75.45 L101.66,76.70 L102.68,77.96 L103.70,79.23 L104.71,80.50 L105.71,81.78 L106.71,83.07 L107.70,84.36 L108.68,85.66 L109.66,86.96 L110.62,88.27 L111.58,89.59 L112.52,90.91 L113.46,92.24 L114.38,93.58 L115.29,94.93 L116.19,96.28 L117.07,97.64 L117.94,99.01 L118.80,100.38 L119.64,101.76 L120.47,103.15 L121.28,104.55 L122.08,105.96 L122.86,107.37 L123.62,108.80 L124.36,110.23 L125.08,111.67 L125.79,113.12 L126.47,114.57 L127.14,116.04 L127.79,117.51 L128.42,118.99 L129.04,120.47 L129.64,121.97 L130.22,123.47 L130.79,124.97 L131.34,126.49 L131.87,128.01 L132.39,129.53 L132.90,131.06 L133.39,132.60 L133.87,134.14 L134.33,135.69 L134.78,137.24 L135.22,138.80 L135.64,140.36 L136.06,141.93 L136.46,143.50 L136.85,145.07 L137.23,146.65 L137.59,148.23 L137.95,149.82 L138.30,151.40 L138.64,152.99 L138.97,154.58 L139.28,156.18 L139.60,157.77 L139.90,159.37 L140.19,160.97 L140.48,162.57 L140.76,164.18 L141.03,165.78 L141.30,167.38 L141.56,168.99 L141.81,170.59 L142.06,172.20 L142.31,173.81 L142.55,175.41 L142.78,177.01 L143.01,178.62 L143.24,180.22 L143.46,181.82 L143.68,183.42 L143.90,185.03 L144.11,186.63 L144.33,188.23 L144.53,189.83 L144.74,191.43 L144.95,193.03 L145.15,194.63 L145.35,196.22 L145.55,197.82 L145.75,199.42 L145.95,201.02 L146.15,202.62 L146.34,204.22 L146.54,205.82 L146.74,207.42 L146.94,209.02 L147.13,210.62 L147.33,212.21 L147.53,213.81 L147.73,215.42 L147.94,217.02 L148.14,218.62 L148.35,220.22 L148.56,221.82 L148.77,223.42 L148.98,225.03 L149.20,226.63 L149.42,228.24 L149.64,229.84 L149.87,231.45 L150.10,233.05 L150.33,234.66 L150.57,236.27 L150.81,237.88 L151.06,239.49 L151.32,241.10 L151.57,242.72 L151.84,244.33 L152.11,245.95 L152.38,247.56 L152.67,249.18 L152.96,250.80 L153.26,252.41 L153.57,254.03 L153.89,255.64 L154.22,257.25 L154.57,258.85 L154.93,260.45 L155.30,262.05 L155.69,263.64 L156.10,265.23 L156.53,266.80 L156.97,268.38 L157.43,269.94 L157.92,271.49 L158.42,273.04 L158.95,274.58 L159.50,276.10 L160.07,277.62 L160.67,279.12 L161.30,280.62 L161.95,282.09 L162.63,283.56 L163.34,285.01 L164.08,286.45 L164.85,287.87 L165.64,289.27 L166.47,290.66 L167.32,292.03 L168.20,293.38 L169.11,294.71 L170.05,296.02 L171.01,297.30 L172.01,298.57 L173.03,299.80 L174.08,301.02 L175.15,302.21 L176.25,303.37 L177.38,304.50 L178.54,305.61 L179.72,306.69 L180.93,307.74 L182.17,308.75 L183.43,309.74 L184.71,310.69 L186.02,311.62 L187.34,312.51 L188.69,313.38 L190.06,314.21 L191.45,315.02 L192.85,315.79 L194.26,316.54 L195.69,317.25 L197.14,317.94 L198.59,318.59 L200.06,319.22 L201.54,319.82 L203.03,320.39 L204.53,320.94 L206.03,321.46 L207.55,321.96 L209.08,322.43 L210.61,322.88 L212.15,323.31 L213.70,323.72 L215.26,324.10 L216.83,324.47 L218.40,324.82 L219.98,325.15 L221.56,325.46 L223.15,325.76 L224.75,326.04 L226.35,326.31 L227.95,326.57 L229.56,326.81 L231.18,327.04 L232.79,327.26 L234.41,327.47 L236.04,327.67 L237.66,327.86 L239.29,328.04 L240.91,328.22 L242.54,328.39 L244.17,328.55 L245.81,328.71 L247.44,328.87 L249.07,329.02 L250.70,329.17 L252.33,329.32 L253.96,329.47 L255.59,329.61 L257.22,329.76 L258.84,329.90 L260.47,330.03 L262.10,330.17 L263.73,330.30 L265.36,330.43 L266.98,330.56 L268.61,330.69 L270.24,330.81 L271.86,330.93 L273.49,331.05 L275.12,331.17 L276.74,331.29 L278.37,331.40 L279.99,331.51 L281.62,331.62 L283.24,331.73 L284.87,331.83 L286.49,331.93 L288.11,332.03 L289.74,332.13 L291.36,332.23 L292.98,332.33 L294.61,332.42 L296.23,332.51 L297.85,332.60 L299.47,332.69 L301.09,332.77 L302.72,332.86 L304.34,332.94 L305.96,333.02 L307.58,333.10 L309.20,333.17 L310.82,333.25 L312.44,333.32 L314.06,333.39 L315.68,333.46 L317.30,333.53 L318.92,333.59 L320.54,333.66 L322.16,333.72 L323.78,333.78 L325.40,333.84 L327.01,333.90 L328.63,333.96 L330.25,334.01 L331.87,334.07 L333.49,334.12 L335.11,334.17 L336.72,334.22 L338.34,334.26 L339.96,334.31 L341.57,334.36 L343.19,334.40 L344.81,334.44 L346.43,334.48 L348.04,334.52 L349.66,334.56 L351.28,334.60 L352.89,334.63 L354.51,334.67 L356.12,334.70 L357.74,334.73 L359.36,334.76 L360.97,334.79 L362.59,334.82 L364.20,334.85 L365.82,334.87 L367.43,334.90 L369.05,334.92 L370.66,334.94 L372.28,334.96 L373.89,334.98 L375.51,335.00 L377.12,335.02 L378.74,335.04 L380.35,335.06 L381.97,335.07 L383.58,335.09 L385.20,335.10 L386.81,335.11 L388.43,335.12 L390.04,335.14 L391.66,335.15 L393.27,335.16 L394.89,335.16 L396.50,335.17 L398.11,335.18 L399.73,335.19 L401.34,335.19 L402.96,335.20 L404.57,335.20 L406.19,335.20 L407.80,335.21 L409.41,335.21 L411.03,335.21 L412.64,335.21 L414.26,335.21 L415.87,335.21 L417.49,335.21 L419.10,335.21 L420.72,335.21 L422.33,335.21 L423.94,335.20 L425.56,335.20 L427.17,335.20 L428.79,335.19 L430.40,335.19 L432.02,335.18 L433.63,335.18 L435.25,335.17 L436.86,335.17 L438.48,335.16 L440.09,335.15 L441.71,335.15 L443.32,335.14 L444.94,335.13 L446.55,335.12 L448.17,335.12 L449.78,335.11 L451.40,335.10 L453.01,335.09 L454.63,335.08 L456.25,335.08 L457.86,335.07 L459.48,335.06 L461.09,335.05 L462.71,335.04 L464.33,335.03 L465.94,335.02 L467.56,335.02 L469.18,335.01 L470.79,335.00 L472.41,334.99 L474.03,334.98 L475.65,334.97 L477.26,334.97 L478.88,334.96 L480.50,334.95 L482.12,334.94 L483.73,334.93 L485.35,334.93 L486.97,334.92 L488.59,334.91 L490.21,334.91 L491.83,334.90 L493.45,334.90 L495.06,334.89 L496.68,334.88 L498.30,334.88 L499.92,334.88 L501.54,334.87 L503.16,334.87 L504.78,334.86 L506.40,334.86 L508.03,334.86 L509.65,334.86 L511.27,334.86 L512.89,334.86 L514.51,334.86 L516.13,334.86 L517.76,334.86 L519.38,334.86 L521.00,334.86 L522.62,334.86 L524.25,334.87 L525.87,334.87 L527.49,334.88 L529.12,334.88 L530.74,334.89 L532.37,334.90 L533.99,334.90 L535.62,334.91 L537.24,334.92 L538.87,334.93 L540.49,334.94 L542.12,334.96 L543.74,334.97 L545.37,334.98 L547.00,335.00 L548.62,335.01 L550.25,335.03 L551.88,335.05 L553.51,335.07 L555.14,335.08 L556.76,335.11 L558.39,335.13 L560.02,335.15 L561.65,335.17 L563.28,335.20 L564.91,335.22 L566.54,335.25 L568.17,335.28 L569.81,335.31" stroke="#2e3192" stroke-dasharray="5.2 4.8"/>
</g>
<path d="M99.6,335.5V30.6H569.8M107.44,30.6v3.0M115.27,30.6v3.0M123.11,30.6v3.0M130.95,30.6v3.0M138.78,30.6v3.0M146.62,30.6v3.0M154.46,30.6v3.0M162.29,30.6v3.0M170.13,30.6v3.0M177.97,30.6v6.5M185.80,30.6v3.0M193.64,30.6v3.0M201.48,30.6v3.0M209.31,30.6v3.0M217.15,30.6v3.0M224.99,30.6v3.0M232.82,30.6v3.0M240.66,30.6v3.0M248.50,30.6v3.0M256.33,30.6v6.5M264.17,30.6v3.0M272.01,30.6v3.0M279.84,30.6v3.0M287.68,30.6v3.0M295.52,30.6v3.0M303.35,30.6v3.0M311.19,30.6v3.0M319.03,30.6v3.0M326.86,30.6v3.0M334.70,30.6v6.5M342.54,30.6v3.0M350.37,30.6v3.0M358.21,30.6v3.0M366.05,30.6v3.0M373.88,30.6v3.0M381.72,30.6v3.0M389.56,30.6v3.0M397.39,30.6v3.0M405.23,30.6v3.0M413.07,30.6v6.5M420.90,30.6v3.0M428.74,30.6v3.0M436.58,30.6v3.0M444.41,30.6v3.0M452.25,30.6v3.0M460.09,30.6v3.0M467.92,30.6v3.0M475.76,30.6v3.0M483.60,30.6v3.0M491.43,30.6v6.5M499.27,30.6v3.0M507.11,30.6v3.0M514.94,30.6v3.0M522.78,30.6v3.0M530.62,30.6v3.0M538.45,30.6v3.0M546.29,30.6v3.0M554.13,30.6v3.0M561.96,30.6v3.0M99.6,331.14h5.0M99.6,326.79h5.0M99.6,322.43h5.0M99.6,318.08h5.0M99.6,313.72h5.0M99.6,309.37h5.0M99.6,305.01h5.0M99.6,300.65h5.0M99.6,296.30h5.0M99.6,291.94h9.6M99.6,287.59h5.0M99.6,283.23h5.0M99.6,278.88h5.0M99.6,274.52h5.0M99.6,270.16h5.0M99.6,265.81h5.0M99.6,261.45h5.0M99.6,257.10h5.0M99.6,252.74h5.0M99.6,248.39h9.6M99.6,244.03h5.0M99.6,239.67h5.0M99.6,235.32h5.0M99.6,230.96h5.0M99.6,226.61h5.0M99.6,222.25h5.0M99.6,217.90h5.0M99.6,213.54h5.0M99.6,209.18h5.0M99.6,204.83h9.6M99.6,200.47h5.0M99.6,196.12h5.0M99.6,191.76h5.0M99.6,187.41h5.0M99.6,183.05h5.0M99.6,178.69h5.0M99.6,174.34h5.0M99.6,169.98h5.0M99.6,165.63h5.0M99.6,161.27h9.6M99.6,156.92h5.0M99.6,152.56h5.0M99.6,148.20h5.0M99.6,143.85h5.0M99.6,139.49h5.0M99.6,135.14h5.0M99.6,130.78h5.0M99.6,126.43h5.0M99.6,122.07h5.0M99.6,117.71h9.6M99.6,113.36h5.0M99.6,109.00h5.0M99.6,104.65h5.0M99.6,100.29h5.0M99.6,95.94h5.0M99.6,91.58h5.0M99.6,87.22h5.0M99.6,82.87h5.0M99.6,78.51h5.0M99.6,74.16h9.6M99.6,69.80h5.0M99.6,65.45h5.0M99.6,61.09h5.0M99.6,56.73h5.0M99.6,52.38h5.0M99.6,48.02h5.0M99.6,43.67h5.0M99.6,39.31h5.0M99.6,34.96h5.0" stroke="#000" stroke-width="0.4" fill="none"/>
<path d="M99.6,335.5H569.8V30.6M107.44,335.5v-3.0M115.27,335.5v-3.0M123.11,335.5v-3.0M130.95,335.5v-3.0M138.78,335.5v-3.0M146.62,335.5v-3.0M154.46,335.5v-3.0M162.29,335.5v-3.0M170.13,335.5v-3.0M177.97,335.5v-6.5M185.80,335.5v-3.0M193.64,335.5v-3.0M201.48,335.5v-3.0M209.31,335.5v-3.0M217.15,335.5v-3.0M224.99,335.5v-3.0M232.82,335.5v-3.0M240.66,335.5v-3.0M248.50,335.5v-3.0M256.33,335.5v-6.5M264.17,335.5v-3.0M272.01,335.5v-3.0M279.84,335.5v-3.0M287.68,335.5v-3.0M295.52,335.5v-3.0M303.35,335.5v-3.0M311.19,335.5v-3.0M319.03,335.5v-3.0M326.86,335.5v-3.0M334.70,335.5v-6.5M342.54,335.5v-3.0M350.37,335.5v-3.0M358.21,335.5v-3.0M366.05,335.5v-3.0M373.88,335.5v-3.0M381.72,335.5v-3.0M389.56,335.5v-3.0M397.39,335.5v-3.0M405.23,335.5v-3.0M413.07,335.5v-6.5M420.90,335.5v-3.0M428.74,335.5v-3.0M436.58,335.5v-3.0M444.41,335.5v-3.0M452.25,335.5v-3.0M460.09,335.5v-3.0M467.92,335.5v-3.0M475.76,335.5v-3.0M483.60,335.5v-3.0M491.43,335.5v-6.5M499.27,335.5v-3.0M507.11,335.5v-3.0M514.94,335.5v-3.0M522.78,335.5v-3.0M530.62,335.5v-3.0M538.45,335.5v-3.0M546.29,335.5v-3.0M554.13,335.5v-3.0M561.96,335.5v-3.0M569.8,331.14h-5.0M569.8,326.79h-5.0M569.8,322.43h-5.0M569.8,318.08h-5.0M569.8,313.72h-5.0M569.8,309.37h-5.0M569.8,305.01h-5.0M569.8,300.65h-5.0M569.8,296.30h-5.0M569.8,291.94h-9.6M569.8,287.59h-5.0M569.8,283.23h-5.0M569.8,278.88h-5.0M569.8,274.52h-5.0M569.8,270.16h-5.0M569.8,265.81h-5.0M569.8,261.45h-5.0M569.8,257.10h-5.0M569.8,252.74h-5.0M569.8,248.39h-9.6M569.8,244.03h-5.0M569.8,239.67h-5.0M569.8,235.32h-5.0M569.8,230.96h-5.0M569.8,226.61h-5.0M569.8,222.25h-5.0M569.8,217.90h-5.0M569.8,213.54h-5.0M569.8,209.18h-5.0M569.8,204.83h-9.6M569.8,200.47h-5.0M569.8,196.12h-5.0M569.8,191.76h-5.0M569.8,187.41h-5.0M569.8,183.05h-5.0M569.8,178.69h-5.0M569.8,174.34h-5.0M569.8,169.98h-5.0M569.8,165.63h-5.0M569.8,161.27h-9.6M569.8,156.92h-5.0M569.8,152.56h-5.0M569.8,148.20h-5.0M569.8,143.85h-5.0M569.8,139.49h-5.0M569.8,135.14h-5.0M569.8,130.78h-5.0M569.8,126.43h-5.0M569.8,122.07h-5.0M569.8,117.71h-9.6M569.8,113.36h-5.0M569.8,109.00h-5.0M569.8,104.65h-5.0M569.8,100.29h-5.0M569.8,95.94h-5.0M569.8,91.58h-5.0M569.8,87.22h-5.0M569.8,82.87h-5.0M569.8,78.51h-5.0M569.8,74.16h-9.6M569.8,69.80h-5.0M569.8,65.45h-5.0M569.8,61.09h-5.0M569.8,56.73h-5.0M569.8,52.38h-5.0M569.8,48.02h-5.0M569.8,43.67h-5.0M569.8,39.31h-5.0M569.8,34.96h-5.0" stroke="#000" stroke-width="0.58" fill="none"/>
<g class="r">
<text transform="translate(56.10,46.60) scale(1.08,1)" textLength="33.24" lengthAdjust="spacing" font-size="24.8">0.7</text>
<text transform="translate(56.10,83.00) scale(1.08,1)" textLength="33.24" lengthAdjust="spacing" font-size="24.8">0.6</text>
<text transform="translate(56.10,126.80) scale(1.08,1)" textLength="33.24" lengthAdjust="spacing" font-size="24.8">0.5</text>
<text transform="translate(56.10,170.20) scale(1.08,1)" textLength="33.24" lengthAdjust="spacing" font-size="24.8">0.4</text>
<text transform="translate(56.10,214.00) scale(1.08,1)" textLength="33.24" lengthAdjust="spacing" font-size="24.8">0.3</text>
<text transform="translate(56.10,257.40) scale(1.08,1)" textLength="33.24" lengthAdjust="spacing" font-size="24.8">0.2</text>
<text transform="translate(56.10,301.10) scale(1.08,1)" textLength="33.24" lengthAdjust="spacing" font-size="24.8">0.1</text>
<text transform="translate(56.10,335.90) scale(1.08,1)" textLength="33.24" lengthAdjust="spacing" font-size="24.8">0.0</text>
<text x="99.60" y="366.20" text-anchor="middle" font-size="24.7">0</text>
<text x="177.97" y="366.20" text-anchor="middle" font-size="24.7">1</text>
<text x="256.33" y="366.20" text-anchor="middle" font-size="24.7">2</text>
<text x="334.70" y="366.20" text-anchor="middle" font-size="24.7">3</text>
<text x="413.07" y="366.20" text-anchor="middle" font-size="24.7">4</text>
<text x="491.43" y="366.20" text-anchor="middle" font-size="24.7">5</text>
<text x="569.80" y="366.20" text-anchor="middle" font-size="24.7">6</text>
<text x="280.30" y="391.90" textLength="38.00" lengthAdjust="spacingAndGlyphs" font-size="20.3">Age</text>
<text x="331.00" y="391.90" textLength="57.60" lengthAdjust="spacingAndGlyphs" font-size="20.3">(Gyr)</text>
<text transform="translate(34.1,188.8) rotate(-90) scale(1.13,1)" font-size="23.5" style="stroke-width:0.1px">e</text>
<text transform="translate(229.20,71.00) scale(0.88,1)" font-size="32.5">Q</text>
<text transform="translate(259.1,73.9) scale(1.125,1.17)" font-size="30" style="stroke-width:0">=</text>
<text transform="translate(283.60,71.10) scale(0.77,1)" font-size="32.5">1</text>
<text transform="translate(300.50,71.10) scale(0.97,1)" font-size="32.5">0</text>
<text x="341.20" y="71.00" font-size="26">,</text>
<text transform="translate(364.50,71.00) scale(1.12,1)" textLength="23.21" lengthAdjust="spacing" font-size="22.6">no</text>
<text transform="translate(405.00,71.00) scale(1.18,1)" textLength="45.17" lengthAdjust="spacing" font-size="22.6">tides</text>
<text transform="translate(471.20,71.00) scale(1.12,1)" textLength="23.75" lengthAdjust="spacing" font-size="22.6">on</text>
<text transform="translate(510.80,71.00) scale(1.22,1)" textLength="36.23" lengthAdjust="spacing" font-size="22.6">star</text>
<text x="229.40" y="106.50" font-size="31">a</text>
<text transform="translate(251.95,109.9) scale(1.05,1.12)" font-size="30" style="stroke-width:0">=</text>
<text transform="translate(273.40,106.50) scale(0.92,1)" font-size="31.7">0</text>
<text x="290.40" y="106.50" font-size="31.7">.</text>
<text transform="translate(300.60,106.50) scale(0.92,1)" font-size="31.7">0</text>
<text transform="translate(318.40,106.50) scale(0.95,1)" font-size="31.7">7</text>
<text transform="translate(334.80,106.50) scale(0.95,1)" font-size="31.7">5</text>
<text transform="translate(352.00,106.50) scale(0.775,1)" font-size="31.7">A</text>
<text transform="translate(370.00,106.50) scale(0.82,1)" font-size="31.7">U</text>
<text transform="translate(228.70,170.80) scale(1.08,1)" font-size="30" style="stroke-width:0.1px">e</text>
<text transform="translate(360.30,155.00) scale(1.03,1)" textLength="34.56" lengthAdjust="spacing" font-size="16.9">0.60</text>
<text transform="translate(360.30,170.90) scale(1.03,1)" textLength="34.56" lengthAdjust="spacing" font-size="16.9">0.55</text>
<text transform="translate(360.30,186.80) scale(1.03,1)" textLength="34.56" lengthAdjust="spacing" font-size="16.9">0.40</text>
</g>
<g style="stroke:#000;stroke-width:0.45px">
<text transform="translate(248.90,75.30) scale(1.1,1)" font-size="14.5">p</text>
<text x="318.40" y="57.70" textLength="20.20" lengthAdjust="spacingAndGlyphs" font-size="13.0">6.5</text>
<text transform="translate(245.20,110.80) scale(1.15,1)" font-size="13.5">i</text>
<text transform="translate(244.60,174.90) scale(1.15,1)" font-size="13.5">i</text>
<text x="252.90" y="139.20" textLength="54.80" lengthAdjust="spacingAndGlyphs" font-size="13.8">3×solar</text>
<text x="319.30" y="139.20" textLength="36.40" lengthAdjust="spacingAndGlyphs" font-size="13.8">solar</text>
</g>
<path d="M252.4,50.3 L253.9,50.7 L251.6,57.5 L250.9,57.2 Z" fill="#000"/>
<g fill="#000" stroke="#000" stroke-width="0.55" stroke-linejoin="round" stroke-linecap="round">
<path d="M258.3,147.3 Q250.7,155.5 259.1,163.8 Q253.4,155.5 258.3,147.3 Z"/>
<path d="M258.6,168.4 Q250.9,176.6 258.9,185.3 Q253.6,176.6 258.6,168.4 Z"/>
<path d="M259.1,163.8 L256.8,166.5 L258.6,168.4" fill="none" stroke-width="0.8"/>
</g>
<path d="M269.6,149.5H294.0" stroke="#2e3192" stroke-width="1" stroke-dasharray="5.3 4.7" fill="none"/>
<path d="M317.6,149.5H341.8" stroke="#2e3192" stroke-width="1" fill="none"/>
<path d="M269.6,165.5H294.0" stroke="#00a651" stroke-width="1" stroke-dasharray="5.3 4.7" fill="none"/>
<path d="M317.6,165.5H341.8" stroke="#00a651" stroke-width="1" fill="none"/>
<path d="M269.6,181.5H294.0" stroke="#ed1c24" stroke-width="1" stroke-dasharray="5.3 4.7" fill="none"/>
<path d="M317.6,181.5H341.8" stroke="#ed1c24" stroke-width="1" fill="none"/>
</svg></body></html>
